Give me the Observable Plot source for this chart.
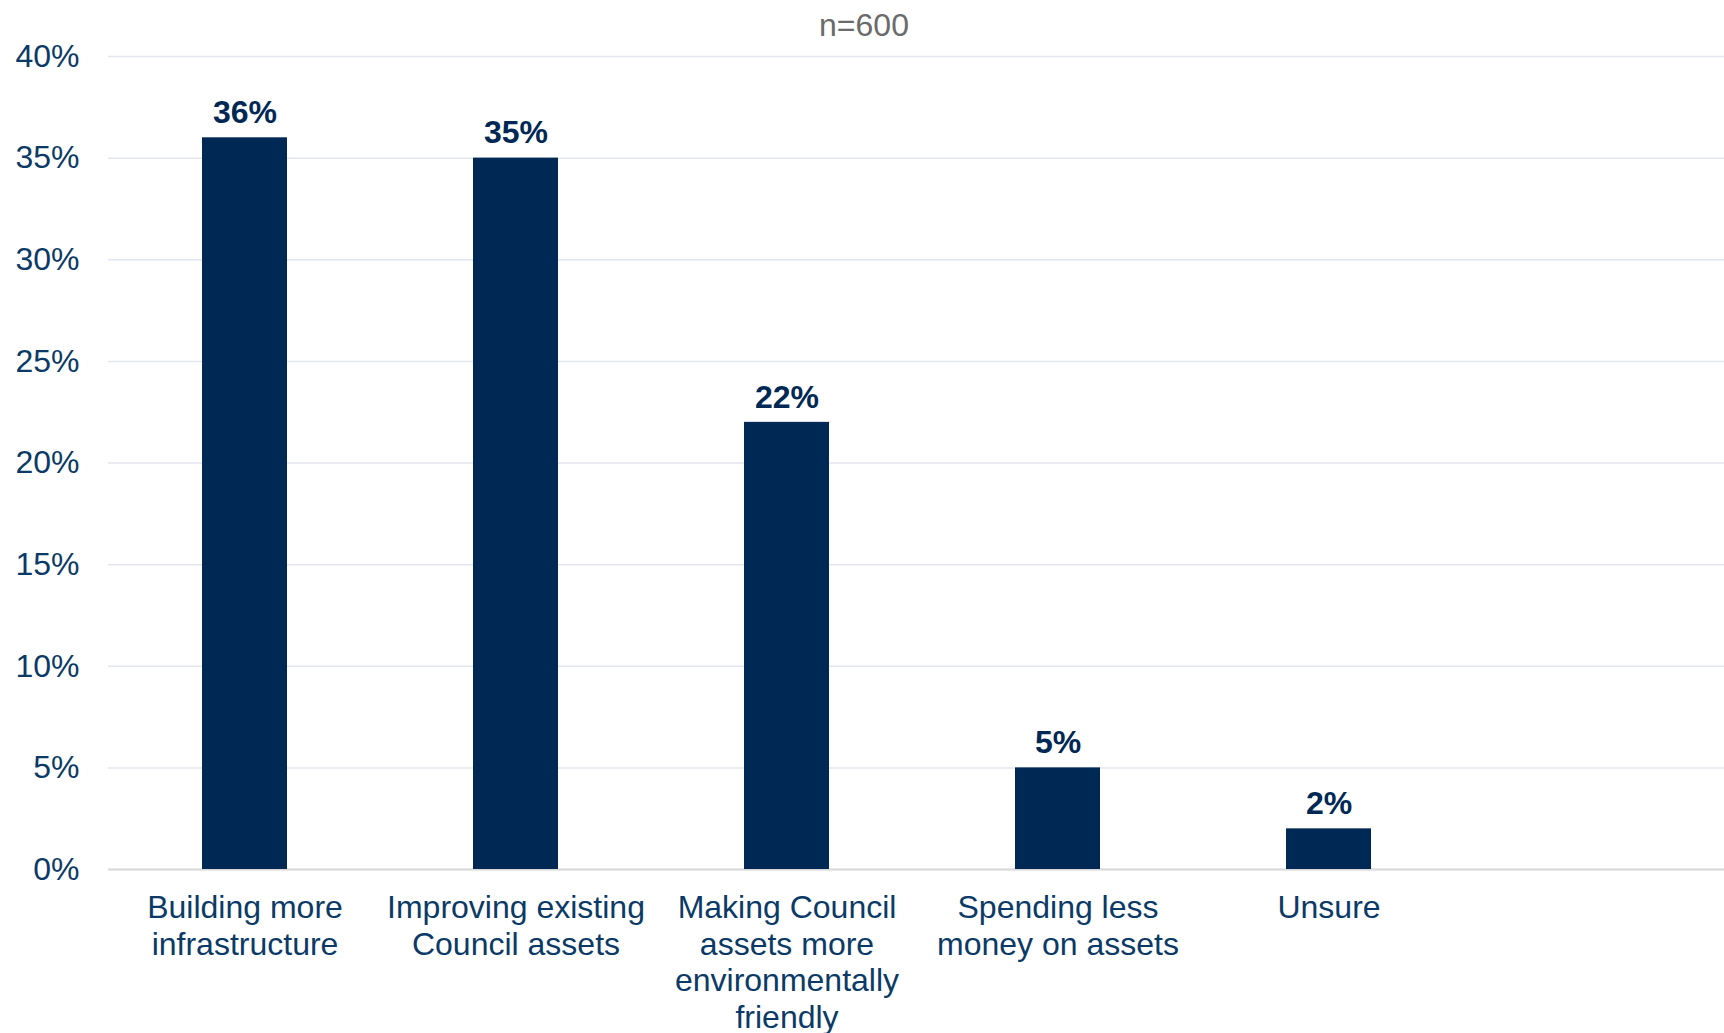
<!DOCTYPE html>
<html>
<head>
<meta charset="utf-8">
<script src="https://cdn.jsdelivr.net/npm/d3@7"></script>
<script src="https://cdn.jsdelivr.net/npm/@observablehq/plot@0.6"></script>
<style>
  html, body { margin: 0; padding: 0; background: #ffffff; }
  #subtitle {
    width: 1724px; height: 30px; line-height: 50px; text-align: center;
    font-family: "Liberation Sans", Arial, sans-serif; font-size: 32px; color: #6b6b6b;
    padding-left: 4px; box-sizing: border-box; overflow: visible; position: relative; z-index: 1;
  }
  #chart svg { display: block; overflow: visible; }
</style>
</head>
<body>
<div id="subtitle"></div>
<div id="chart"></div>
<script>
const subtitle = "n=600";
const categories = [
  "Building more infrastructure",
  "Improving existing Council assets",
  "Making Council assets more environmentally friendly",
  "Spending less money on assets",
  "Unsure"
];
const categoryLabels = [
  "Building more\ninfrastructure",
  "Improving existing\nCouncil assets",
  "Making Council\nassets more\nenvironmentally\nfriendly",
  "Spending less\nmoney on assets",
  "Unsure"
];
const values = [36, 35, 22, 5, 2];
const yTicks = [0, 5, 10, 15, 20, 25, 30, 35, 40];

document.getElementById("subtitle").textContent = subtitle;

const data = categories.map((c, i) => ({category: c, value: values[i], label: values[i] + "%"}));

const font = "'Liberation Sans', Arial, sans-serif";
const chart = Plot.plot({
  width: 1724,
  height: 1003,
  marginTop: 26,
  marginBottom: 164,
  marginLeft: 108,
  marginRight: 0,
  style: {fontFamily: font, fontSize: "32px", color: "#0b3a66", background: "transparent"},
  x: {domain: categories, range: [108, 1464], paddingInner: 0.6865, paddingOuter: 0.343},
  y: {domain: [0, 40]},
  marks: [
    Plot.gridY(yTicks, {stroke: "#e3e6ee", strokeOpacity: 1, strokeWidth: 1.5}),
    Plot.ruleY([0], {stroke: "#d9d9d9", strokeWidth: 2}),
    Plot.barY(data, {x: "category", y: "value", fill: "#002855"}),
    Plot.text(data, {x: "category", y: "value", text: "label", dy: -25, fontWeight: "bold", fontSize: 32, fill: "#002855"}),
    Plot.axisY(yTicks, {tickFormat: d => d + "%", tickSize: 0, tickPadding: 29, fontSize: 32, fill: "#0b3a66", label: null}),
    Plot.axisX({tickSize: 0, tickPadding: 23, tickFormat: d => categoryLabels[categories.indexOf(d)], lineHeight: 1.14, fontSize: 32, fill: "#0b3a66", label: null})
  ]
});
document.getElementById("chart").appendChild(chart);
</script>
</body>
</html>
